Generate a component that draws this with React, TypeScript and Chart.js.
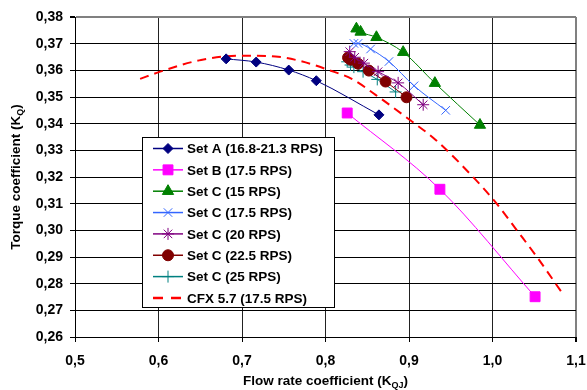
import React, { useEffect, useRef } from 'react';
import { Chart, registerables } from 'chart.js';
import { drawPoint } from 'chart.js/helpers';

Chart.register(...registerables);

// ---- Data ----
const setAX = [0.681, 0.717, 0.756, 0.789, 0.864];
const setAY = [0.3643, 0.3631, 0.3601, 0.3561, 0.3433];

const setBX = [0.826, 0.937, 1.051];
const setBY = [0.344, 0.3154, 0.2751];

const setC15X = [0.837, 0.842, 0.861, 0.893, 0.931, 0.985];
const setC15Y = [0.3756, 0.3744, 0.3724, 0.3668, 0.3552, 0.3395];

const setC175X = [0.834, 0.839, 0.854, 0.876, 0.906, 0.944];
const setC175Y = [0.3701, 0.3701, 0.3680, 0.3633, 0.3542, 0.3450];

const setC20X = [0.829, 0.835, 0.846, 0.863, 0.887, 0.917];
const setC20Y = [0.3670, 0.3649, 0.3627, 0.3595, 0.3553, 0.3471];

const setC225X = [0.827, 0.830, 0.839, 0.852, 0.872, 0.897];
const setC225Y = [0.3648, 0.3640, 0.3625, 0.3599, 0.3558, 0.3499];

const setC25X = [0.826, 0.830, 0.834, 0.845, 0.862, 0.884];
const setC25Y = [0.3632, 0.3620, 0.3612, 0.3595, 0.3566, 0.3519];

const cfxX = [0.578, 0.602, 0.651, 0.70, 0.74, 0.771, 0.804, 0.832, 0.86, 0.904, 0.932, 0.98, 1.005, 1.029, 1.053, 1.085];
const cfxY = [0.3568, 0.3595, 0.3639, 0.3655, 0.3652, 0.3634, 0.3601, 0.3567, 0.3508, 0.3407, 0.3339, 0.3189, 0.310, 0.3001, 0.2901, 0.2758];

const seriesLabels = [
  'Set A (16.8-21.3 RPS)',
  'Set B (17.5 RPS)',
  'Set C (15 RPS)',
  'Set C (17.5 RPS)',
  'Set C (20 RPS)',
  'Set C (22.5 RPS)',
  'Set C (25 RPS)',
  'CFX 5.7 (17.5 RPS)',
];

const xTicksMin = 0.5;
const xTicksMax = 1.1;
const yTicksMin = 0.26;
const yTicksMax = 0.38;

const pts = (xs: number[], ys: number[]) => xs.map((x, i) => ({ x, y: ys[i] }));

const FONT = '"Liberation Sans", Arial, sans-serif';

type Sty = { color: string; lineColor: string; style: any; radius: number; dash?: number[]; lw: number };
const styles: Sty[] = [
  { color: '#000080', lineColor: '#000080', style: 'rectRot', radius: 5, lw: 1 },
  { color: '#FF00FF', lineColor: '#FF00FF', style: 'rect', radius: 7, lw: 1 },
  { color: '#008000', lineColor: '#008000', style: 'triangle', radius: 6.5, lw: 1 },
  { color: '#3366FF', lineColor: '#3366FF', style: 'crossRot', radius: 6, lw: 1 },
  { color: '#800080', lineColor: '#800080', style: 'star', radius: 6, lw: 1 },
  { color: '#800000', lineColor: '#800000', style: 'circle', radius: 5.5, lw: 1 },
  { color: '#008080', lineColor: '#008080', style: 'cross', radius: 6, lw: 1 },
  { color: '#FF0000', lineColor: '#FF0000', style: false, radius: 0, dash: [9, 6], lw: 2 },
];

function drawSubText(ctx: CanvasRenderingContext2D, main: string, sub: string, tail: string, x: number, y: number, size: number) {
  const big = `bold ${size}px ${FONT}`;
  const small = `bold ${Math.round(size * 0.7)}px ${FONT}`;
  ctx.font = big;
  const w1 = ctx.measureText(main).width;
  const w3 = ctx.measureText(tail).width;
  ctx.font = small;
  const w2 = ctx.measureText(sub).width;
  const total = w1 + w2 + w3;
  let cx = x - total / 2;
  ctx.textAlign = 'left';
  ctx.textBaseline = 'alphabetic';
  ctx.font = big;
  ctx.fillText(main, cx, y);
  cx += w1;
  ctx.font = small;
  ctx.fillText(sub, cx, y + 3);
  cx += w2;
  ctx.font = big;
  ctx.fillText(tail, cx, y);
}

const overlayPlugin = {
  id: 'overlay',
  afterDraw(chart: any) {
    const ctx: CanvasRenderingContext2D = chart.ctx;
    const area = chart.chartArea;
    ctx.save();
    ctx.fillStyle = '#000';
    // x title
    drawSubText(ctx, 'Flow rate coefficient (K', 'QJ', ')', (area.left + area.right) / 2, 385, 13.5);
    // y title
    ctx.save();
    ctx.translate(20, (area.top + area.bottom) / 2);
    ctx.rotate(-Math.PI / 2);
    drawSubText(ctx, 'Torque coefficient (K', 'Q', ')', 0, 0, 13.5);
    ctx.restore();

    // legend
    const bx = 142.5, by = 137.5, bw = 192, bh = 170;
    ctx.fillStyle = '#fff';
    ctx.fillRect(bx, by, bw, bh);
    ctx.strokeStyle = '#000';
    ctx.lineWidth = 1;
    ctx.setLineDash([]);
    ctx.strokeRect(bx, by, bw, bh);
    const row0 = 148.5, step = 21.35;
    seriesLabels.forEach((lab, i) => {
      const s = styles[i];
      const yy = row0 + i * step;
      ctx.save();
      ctx.strokeStyle = s.lineColor;
      ctx.lineWidth = s.dash ? 2.5 : 1.5;
      ctx.setLineDash(s.dash ? [10, 8] : []);
      ctx.beginPath();
      ctx.moveTo(153, yy);
      ctx.lineTo(183, yy);
      ctx.stroke();
      ctx.restore();
      if (s.style) {
        ctx.save();
        ctx.fillStyle = s.color;
        ctx.strokeStyle = s.color;
        ctx.lineWidth = 1;
        drawPoint(ctx, { pointStyle: s.style, radius: s.radius, rotation: 0, borderWidth: 1 } as any, 168, yy);
        ctx.restore();
      }
      ctx.fillStyle = '#000';
      ctx.font = `bold 13.5px ${FONT}`;
      ctx.textAlign = 'left';
      ctx.textBaseline = 'middle';
      ctx.fillText(lab, 187, yy + 1);
    });
    ctx.restore();
  },
};

const near = (a: number, b: number) => Math.abs(a - b) < 1e-6;

export default function App() {
  const ref = useRef<HTMLCanvasElement>(null);
  useEffect(() => {
    const allX = [setAX, setBX, setC15X, setC175X, setC20X, setC225X, setC25X, cfxX];
    const allY = [setAY, setBY, setC15Y, setC175Y, setC20Y, setC225Y, setC25Y, cfxY];
    const datasets = seriesLabels.map((label, i) => {
      const s = styles[i];
      return {
        label,
        data: pts(allX[i], allY[i]),
        borderColor: s.lineColor,
        backgroundColor: s.color,
        pointBackgroundColor: s.color,
        pointBorderColor: s.color,
        pointStyle: s.style,
        pointRadius: s.radius,
        pointBorderWidth: 1,
        borderWidth: s.lw,
        borderDash: s.dash || [],
        showLine: true,
        fill: false,
        cubicInterpolationMode: 'monotone' as const,
        order: i === 7 ? 10 : i,
      };
    });
    const chart = new Chart(ref.current!, {
      type: 'scatter',
      data: { datasets },
      options: {
        responsive: false,
        animation: false,
        layout: { padding: { top: 17, right: 11, left: 0, bottom: 0 } },
        plugins: { legend: { display: false }, tooltip: { enabled: false } },
        scales: {
          x: {
            type: 'linear',
            min: xTicksMin,
            max: xTicksMax,
            afterFit: (s: any) => { s.height = 53; s.paddingRight = 0; },
            ticks: {
              stepSize: 0.1,
              padding: 11,
              color: '#000',
              font: { family: FONT, size: 14, weight: 'bold' },
              callback: (v: any) => Number(v).toFixed(1).replace('.', ','),
            },
            grid: {
              color: (c: any) => (c.tick && near(c.tick.value, xTicksMax) ? '#808080' : '#222'),
              lineWidth: (c: any) => (c.tick && near(c.tick.value, xTicksMax) ? 2 : 1),
              tickLength: 5,
              tickColor: '#000',
            },
            border: { color: '#000', width: 1 },
          },
          y: {
            type: 'linear',
            min: yTicksMin,
            max: yTicksMax,
            afterFit: (s: any) => { s.width = 75; },
            ticks: {
              stepSize: 0.01,
              padding: 7,
              color: '#000',
              font: { family: FONT, size: 14, weight: 'bold' },
              callback: (v: any) => Number(v).toFixed(2).replace('.', ','),
            },
            grid: {
              color: (c: any) => (c.tick && near(c.tick.value, yTicksMax) ? '#808080' : '#000'),
              lineWidth: (c: any) => (c.tick && near(c.tick.value, yTicksMax) ? 2 : 1),
              tickLength: 5,
              tickColor: '#000',
            },
            border: { color: '#000', width: 1 },
          },
        },
      },
      plugins: [overlayPlugin],
    } as any);
    return () => chart.destroy();
  }, []);
  return (
    <div style={{ position: 'fixed', left: 0, top: 0, width: 587, height: 390, background: '#fff' }}>
      <canvas ref={ref} width={587} height={390} />
    </div>
  );
}
